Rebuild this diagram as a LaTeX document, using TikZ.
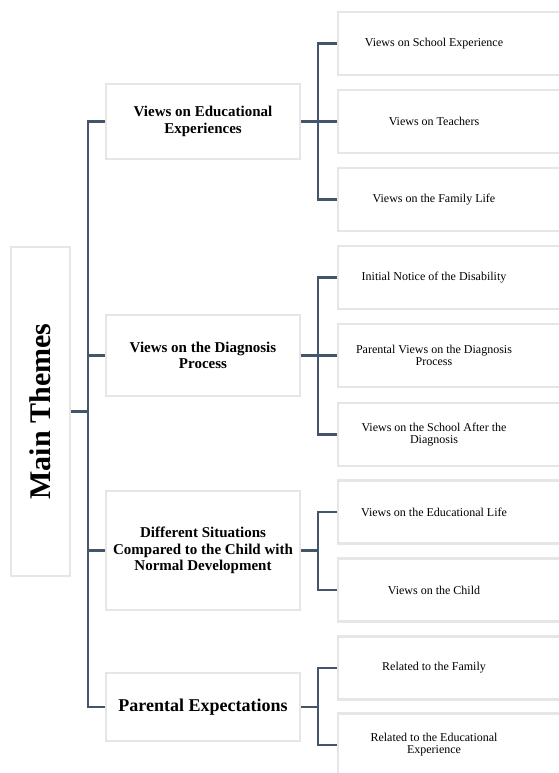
\documentclass[tikz,border=0pt]{standalone}
\usepackage{graphicx}
\usepackage{fontspec}
\setmainfont{Liberation Serif}
\usepackage{tikz}
\usetikzlibrary{positioning}
\definecolor{linkcol}{HTML}{44546A}
\definecolor{boxcol}{HTML}{E6E6E6}

\begin{document}
\begin{tikzpicture}[x=1pt,y=1pt,yscale=-1,xscale=1,
  box/.style={draw=boxcol,line width=2.4pt,inner sep=0pt},
  mainbox/.style={box,minimum width=59pt,minimum height=329pt,font=\bfseries\fontsize{30}{32}\selectfont},
  themebox/.style={box,minimum width=194pt,align=center,font=\bfseries\fontsize{15}{16.6}\selectfont},
  subbox/.style={box,minimum width=232pt,minimum height=63pt,anchor=west},
  subtext/.style={inner sep=0pt,align=center,font=\fontsize{12}{12.2}\selectfont},
  link/.style={draw=linkcol,line width=2.2pt}]
\useasboundingbox (0,0) rectangle (559,773);

%Shape: Rectangle [main theme]
\node[mainbox] (main) at (40.5,411.5) {\rotatebox{90}{Main Themes}};

%Shape: Rectangle [themes]
\node[themebox,minimum height=75pt] (edu) at (203,121.5) {Views on Educational\\Experiences};
\node[themebox,minimum height=81pt] (diag) at (203,355.5) {Views on the Diagnosis\\Process};
\node[themebox,minimum height=119pt] (sit) at (203,550.5) {Different Situations\\Compared to the Child with\\Normal Development};
\node[themebox,minimum height=68pt,font=\bfseries\fontsize{18}{20}\selectfont] (par) at (203,707) {Parental Expectations};

%Shape: Rectangle [sub themes]
\node[subbox] (a1) at (337,43.5) {};
\node[subbox] (a2) at (337,121.5) {};
\node[subbox] (a3) at (337,199.5) {};
\node[subbox] (b1) at (337,277.5) {};
\node[subbox] (b2) at (337,355.5) {};
\node[subbox] (b3) at (337,434.5) {};
\node[subbox] (c1) at (337,512) {};
\node[subbox] (c2) at (337,590) {};
\node[subbox] (d1) at (337,668) {};
\node[subbox] (d2) at (337,745) {};

% Text Node
\node[subtext] (ta1) at ([xshift=97pt]a1.west) {Views on School Experience};
\node[subtext] (ta2) at ([xshift=97pt]a2.west) {Views on Teachers};
\node[subtext] (ta3) at ([xshift=97pt]a3.west) {Views on the Family Life};
\node[subtext] (tb1) at ([xshift=97pt]b1.west) {Initial Notice of the Disability};
\node[subtext] (tb2) at ([xshift=97pt]b2.west) {Parental Views on the Diagnosis\\Process};
\node[subtext] (tb3) at ([xshift=97pt]b3.west) {Views on the School After the\\Diagnosis};
\node[subtext] (tc1) at ([xshift=97pt]c1.west) {Views on the Educational Life};
\node[subtext] (tc2) at ([xshift=97pt]c2.west) {Views on the Child};
\node[subtext] (td1) at ([xshift=97pt]d1.west) {Related to the Family};
\node[subtext] (td2) at ([xshift=97pt]d2.west) {Related to the Educational\\Experience};

%Straight Lines [trunk]
\coordinate (trunk) at (88,0);
\coordinate (bus) at (318,0);
\draw[link] (main.east) -- (main.east -| trunk);
\draw[link] (edu.west) -- (edu.west -| trunk) |- (par.west);
\draw[link] (diag.west) -- (diag.west -| trunk);
\draw[link] (sit.west) -- (sit.west -| trunk);

%Straight Lines [branches]
\draw[link] (edu.east) -- (edu.east -| bus);
\draw[link] (a1.west) -- (a1.west -| bus) |- (a3.west);
\draw[link] (a2.west) -- (a2.west -| bus);
\draw[link] (diag.east) -- (diag.east -| bus);
\draw[link] (b1.west) -- (b1.west -| bus) |- (b3.west);
\draw[link] (b2.west) -- (b2.west -| bus);
\draw[link] (sit.east) -- (sit.east -| bus);
\draw[link] (c1.west) -- (c1.west -| bus) |- (c2.west);
\draw[link] (par.east) -- (par.east -| bus);
\draw[link] (d1.west) -- (d1.west -| bus) |- (d2.west);

\end{tikzpicture}
\end{document}
